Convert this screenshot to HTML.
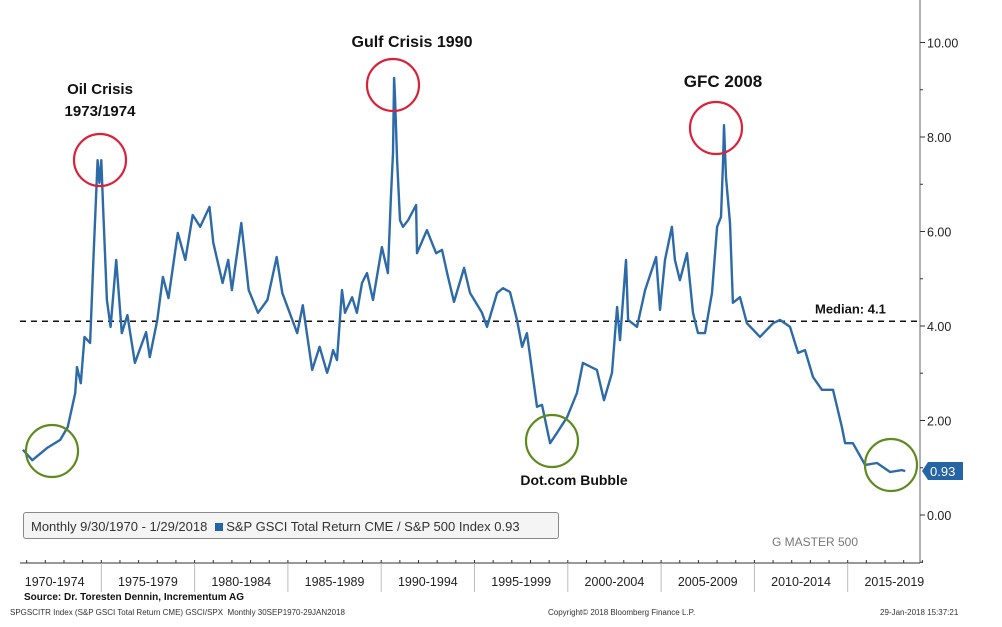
<!DOCTYPE html>
<html><head><meta charset="utf-8"><style>
body{margin:0;background:#fff;width:1002px;height:627px;overflow:hidden}
svg{display:block}
text{font-family:"Liberation Sans",sans-serif}
</style></head><body>
<svg id="chart" width="1002" height="627" viewBox="0 0 1002 627"></svg>
<script>
const years = [0.8,1.3,2.1,2.8,3.2,3.6,3.7,3.9,4.1,4.4,4.6,4.8,4.9,5.0,5.1,5.3,5.5,5.8,6.1,6.4,6.8,7.4,7.6,8.0,8.3,8.6,9.1,9.5,9.9,10.3,10.8,11.0,11.5,11.8,12.0,12.5,12.9,13.4,13.9,14.4,14.7,15.5,15.8,16.3,16.7,17.1,17.26,17.42,17.63,17.9,18.06,18.44,18.7,18.97,19.24,19.56,20.04,20.36,20.52,20.63,20.69,20.74,20.85,21.01,21.17,21.44,21.87,21.92,22.45,22.94,23.26,23.58,23.9,24.44,24.76,25.4,25.67,26.21,26.53,26.9,27.28,27.55,27.81,28.35,28.62,29.05,29.42,29.96,30.49,30.81,31.56,31.94,32.37,32.64,32.8,33.12,33.23,33.71,34.14,34.73,34.94,35.21,35.58,35.74,36.01,36.39,36.71,36.98,37.35,37.73,38.0,38.21,38.32,38.37,38.48,38.69,38.85,39.23,39.6,40.3,41.0,41.37,41.91,42.34,42.71,43.14,43.62,44.21,44.69,44.86,45.28,45.93,46.57,47.27,47.91,48.08];
const values = [1.38,1.16,1.42,1.59,1.86,2.58,3.13,2.79,3.77,3.64,5.61,7.51,7.03,7.51,6.46,4.55,3.98,5.40,3.85,4.23,3.22,3.87,3.34,4.13,5.04,4.59,5.97,5.40,6.35,6.10,6.52,5.76,4.91,5.40,4.76,6.18,4.76,4.28,4.55,5.46,4.70,3.85,4.44,3.07,3.56,3.01,3.22,3.49,3.28,4.76,4.28,4.61,4.28,4.91,5.12,4.55,5.67,5.12,6.73,7.66,9.25,8.85,7.51,6.24,6.10,6.24,6.56,5.54,6.03,5.54,5.61,5.04,4.51,5.23,4.70,4.28,3.98,4.70,4.80,4.72,4.13,3.56,3.85,2.29,2.33,1.52,1.74,2.07,2.58,3.22,3.07,2.43,3.01,4.40,3.70,5.40,4.13,3.98,4.76,5.46,4.34,5.40,6.10,5.40,4.97,5.54,4.28,3.85,3.85,4.70,6.10,6.31,7.51,8.25,7.15,6.18,4.49,4.61,4.06,3.77,4.06,4.13,3.98,3.43,3.49,2.92,2.65,2.65,1.86,1.52,1.52,1.06,1.10,0.91,0.95,0.93];
const yTicks = [0,2,4,6,8,10];
const periods = ["1970-1974","1975-1979","1980-1984","1985-1989","1990-1994","1995-1999","2000-2004","2005-2009","2010-2014","2015-2019"];
const median = 4.1;
const lastValue = 0.93;

const NS="http://www.w3.org/2000/svg";
const svg=document.getElementById('chart');
const X=t=>8+18.66*t;           // t = years since 1970
const Y=v=>515-47.25*v;
function el(tag,attrs,parent){const e=document.createElementNS(NS,tag);for(const k in attrs)e.setAttribute(k,attrs[k]);(parent||svg).appendChild(e);return e;}

let ax=el('line',{x1:920,y1:0,x2:920,y2:563,stroke:'#666','stroke-width':1});


for(let v=-1;v<=11;v++){
  const y=Y(v); if(y<0||y>563)continue;
  el('line',{x1:920,y1:y,x2:v%2===0?925:923,y2:y,stroke:'#333','stroke-width':1});
}
yTicks.forEach(v=>{
  const t=el('text',{x:927,y:Y(v)+5,'font-size':12.5,fill:'#222'});
  t.textContent=v.toFixed(2);
  
  
});

let bx=el('line',{x1:20,y1:563,x2:920,y2:563,stroke:'#333','stroke-width':1});


for(let i=1;i<=49;i++){el('line',{x1:X(i),y1:560,x2:X(i),y2:563,stroke:'#333'});}
periods.forEach((p,i)=>{
  const x0=X(i*5), x1=X(i*5+5);
  if(i>0) el('line',{x1:x0,y1:563,x2:x0,y2:592,stroke:'#bbb'});
  const t=el('text',{x:(x0+x1)/2,y:586,'font-size':12.5,'text-anchor':'middle',fill:'#222'});
  t.textContent=p;
  
  
});

let ml=el('line',{x1:20,y1:Y(median),x2:918,y2:Y(median),stroke:'#111','stroke-width':1.5,'stroke-dasharray':'6,5'});


let mt=el('text',{x:815,y:Y(median)-8,'font-size':13,'font-weight':'bold',fill:'#111'});
mt.textContent='Median: '+median;



let d=years.map((t,i)=>(i?'L':'M')+X(t).toFixed(1)+' '+Y(values[i]).toFixed(1)).join(' ');
let line=el('path',{d:d,fill:'none',stroke:'#2d6aa8','stroke-width':2.4,'stroke-linejoin':'round'});



const ly=Y(lastValue);
let tag=el('path',{d:`M922 ${ly} L928 ${ly-9} L963 ${ly-9} L963 ${ly+9} L928 ${ly+9} Z`,fill:'#2565a5'});


let tt=el('text',{x:930,y:ly+5,'font-size':13,fill:'#fff'});
tt.textContent=lastValue.toFixed(2);



[[100,160,'#d9213a','oil-crisis-circle'],[393,85,'#d9213a','gulf-crisis-circle'],[716,128,'#d9213a','gfc-circle'],
 [52,451,'#5e8a1e','1970-low-circle'],[552,441,'#5e8a1e','dotcom-circle'],[891,465,'#5e8a1e','2018-low-circle']].forEach(c=>{
  const e=el('circle',{cx:c[0],cy:c[1],r:26,fill:'none',stroke:c[2],'stroke-width':2.2});
  
  
});
function lab(x,y,s,name,size,anchor){const t=el('text',{x:x,y:y,'font-size':size||16,'font-weight':'bold',fill:'#111','text-anchor':anchor||'middle'});t.textContent=s;}
lab(100,94,'Oil Crisis','oil-crisis-label',15);
lab(100,116,'1973/1974','oil-crisis-years',15);
lab(412,47,'Gulf Crisis 1990','gulf-crisis-label');
lab(723,87,'GFC 2008','gfc-label',17);
lab(574,485,'Dot.com Bubble','dotcom-label',14);
</script>
<div style="position:absolute;left:23px;top:512px;width:536px;height:27px;border:1px solid #888;border-radius:3px;background:#f4f4f4;font:13px 'Liberation Sans',sans-serif;color:#333;line-height:27px;padding-left:7px;box-sizing:border-box">Monthly 9/30/1970 - 1/29/2018 &nbsp;<span style="display:inline-block;width:8px;height:8px;background:#2565a5"></span> S&amp;P GSCI Total Return CME / S&amp;P 500 Index 0.93</div>
<div style="position:absolute;left:772px;top:535px;font:12px 'Liberation Sans',sans-serif;color:#777">G MASTER 500</div>
<div style="position:absolute;left:24px;top:592px;font:bold 10px 'Liberation Sans',sans-serif;color:#111">Source: Dr. Toresten Dennin, Incrementum AG</div>
<div style="position:absolute;left:10px;top:608px;font:8px 'Liberation Sans',sans-serif;color:#333">SPGSCITR Index (S&amp;P GSCI Total Return CME) GSCI/SPX &nbsp;Monthly 30SEP1970-29JAN2018</div>
<div style="position:absolute;left:548px;top:608px;font:8px 'Liberation Sans',sans-serif;color:#333">Copyright© 2018 Bloomberg Finance L.P.</div>
<div style="position:absolute;left:880px;top:608px;font:8px 'Liberation Sans',sans-serif;color:#333">29-Jan-2018 15:37:21</div>
</body></html>
